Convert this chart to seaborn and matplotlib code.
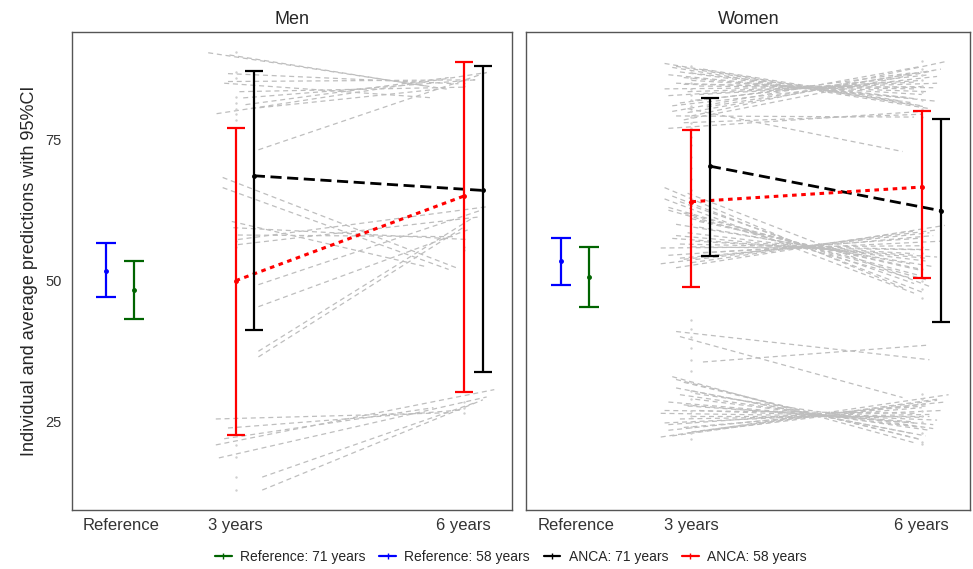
import numpy as np
import pandas as pd
import seaborn as sns
import matplotlib.pyplot as plt
from matplotlib.lines import Line2D

sns.set_style("white")
plt.rcParams['font.family'] = ['Liberation Sans', 'DejaVu Sans']

# x positions of the categories
tick_pos = [1.5, 3, 6]
tick_labels = ["Reference", "3 years", "6 years"]
panels = ["Men", "Women"]

# group means and 95% CI (lower, mean, upper)
ref58 = {"Men": (47.2, 51.8, 56.6), "Women": (49.3, 53.5, 57.6)}
ref71 = {"Men": (43.3, 48.4, 53.5), "Women": (45.4, 50.6, 55.9)}
anca58_3y = {"Men": (22.7, 50.0, 77.1), "Women": (48.9, 64.0, 76.7)}
anca58_6y = {"Men": (30.3, 65.0, 88.8), "Women": (50.4, 66.6, 80.0)}
anca71_3y = {"Men": (41.3, 68.6, 87.2), "Women": (54.4, 70.3, 82.4)}
anca71_6y = {"Men": (33.8, 66.0, 88.0), "Women": (42.6, 62.4, 78.7)}

# individual predictions: (x start, y start, x end, y end)
men_x0 = [2.64, 2.9, 2.9, 3.1, 3.13, 2.75, 3.3, 2.92, 3.05, 3.2, 2.85,
          2.83, 2.83, 2.97, 3.03, 3.03, 3.03, 3.3, 3.3, 3.3, 3.3, 2.95,
          2.74, 2.9, 2.74, 2.78, 3.35, 3.35, 2.85]
men_y0 = [90.4, 86.7, 85.3, 82.4, 81.2, 79.6, 73.2, 90.0, 83.5, 80.5, 85.0,
          68.3, 66.5, 59.4, 58.1, 57.3, 56.4, 49.3, 45.4, 37.5, 36.5, 60.5,
          25.5, 23.9, 20.9, 18.6, 15.2, 12.9, 22.0]
men_x1 = [5.8, 5.93, 6.15, 6.15, 5.8, 6.3, 6.3, 5.5, 6.0, 5.7, 5.6,
          5.9, 5.8, 6.05, 5.9, 6.3, 6.2, 6.25, 6.05, 6.1, 6.0, 5.5,
          5.8, 5.98, 6.4, 6.3, 6.15, 6.25, 5.6]
men_y1 = [83.9, 84.9, 85.6, 85.6, 86.0, 86.9, 86.9, 84.5, 84.3, 84.0, 82.4,
          52.3, 52.0, 57.3, 57.8, 63.1, 61.3, 62.6, 59.0, 61.0, 59.5, 52.5,
          26.6, 27.1, 30.7, 29.4, 28.4, 28.9, 27.5]

women_x0 = [2.65, 2.75, 2.85, 2.7, 2.9, 3.0, 2.8, 3.1, 2.95, 2.7, 3.05, 2.85,
            3.2, 2.75, 3.0, 2.65, 3.15, 2.9, 2.8, 2.9, 2.95, 2.7,
            2.8, 3.0, 2.9, 3.1, 2.75, 2.95,
            2.65, 2.75, 2.85, 2.7, 2.9, 3.0, 2.8, 3.1, 2.95, 2.75, 3.05, 2.85,
            2.6, 3.15, 2.7, 2.9, 2.6, 2.8, 3.0, 2.65,
            2.95, 2.7, 3.1, 2.85, 3.0, 2.8,
            2.8, 3.15, 2.85,
            2.75, 2.9, 2.8, 3.0, 2.85, 3.05, 2.7, 2.95, 3.1, 2.6, 2.85, 2.65,
            2.9, 2.7, 2.95, 2.75, 2.6, 3.0, 2.65,
            2.8, 3.05, 2.9, 2.7, 3.0]
women_y0 = [88.5, 87.8, 87.0, 86.5, 86.0, 85.5, 85.0, 84.5, 83.5, 82.8, 82.0, 81.5,
            80.8, 80.0, 79.2, 84.0, 87.5, 78.5, 79.2, 78.0, 80.5, 77.0,
            88.0, 86.8, 84.8, 83.0, 81.0, 79.8,
            66.5, 65.0, 64.0, 63.0, 62.0, 61.0, 60.0, 59.5, 58.5, 57.5, 57.0, 56.5,
            55.8, 55.0, 54.5, 53.8, 53.0, 52.3, 56.0, 64.5,
            65.5, 62.5, 60.5, 54.0, 53.2, 58.0,
            41.0, 35.6, 40.1,
            33.0, 32.0, 31.0, 30.5, 29.8, 29.0, 28.5, 27.8, 27.0, 26.5, 25.5, 24.8,
            24.0, 23.5, 23.0, 22.5, 22.3, 26.0, 27.0,
            32.5, 30.0, 28.0, 24.5, 23.2]
women_x1 = [6.0, 6.1, 5.9, 6.2, 5.8, 6.0, 6.1, 5.9, 6.2, 6.0, 6.1, 5.85,
            6.25, 6.0, 6.3, 6.05, 5.75, 6.15, 5.9, 6.0, 5.75, 6.0,
            6.05, 5.95, 6.15, 5.9, 6.2, 6.0,
            5.8, 6.0, 5.9, 6.1, 5.95, 6.0, 6.15, 5.85, 6.05, 6.2, 5.9, 6.1,
            6.0, 6.25, 5.95, 6.1, 6.2, 6.3, 6.0, 5.9,
            6.1, 5.85, 6.0, 6.15, 5.9, 6.05,
            6.1, 6.1, 5.75,
            5.9, 5.95, 6.05, 5.85, 6.1, 6.0, 6.15, 5.9, 6.2, 6.0, 6.1, 6.25,
            6.0, 6.3, 6.05, 6.2, 6.35, 6.1, 5.95,
            6.0, 6.15, 5.9, 6.05, 6.2]
women_y1 = [81.0, 80.5, 81.5, 81.8, 82.5, 83.0, 83.5, 84.0, 85.0, 85.5, 86.5, 86.8,
            87.5, 88.0, 88.8, 84.4, 81.8, 87.2, 79.0, 79.5, 72.9, 80.0,
            80.8, 82.2, 84.2, 85.2, 86.2, 87.0,
            48.5, 48.0, 49.5, 50.0, 51.0, 51.8, 52.5, 53.0, 53.5, 54.2, 54.8, 55.5,
            56.2, 57.0, 57.5, 58.5, 59.0, 59.8, 55.5, 47.8,
            49.0, 50.5, 52.0, 58.0, 58.8, 54.0,
            36.0, 38.6, 29.3,
            21.3, 22.0, 22.5, 23.0, 23.5, 24.0, 24.5, 25.0, 25.3, 25.8, 26.3, 27.0,
            27.5, 28.5, 28.2, 29.0, 29.8, 26.0, 26.5,
            21.8, 23.8, 24.8, 27.8, 28.8]

# observed points at 3 and 6 years
men_dots3 = [90.5, 87.0, 86.0, 82.5, 81.5, 80.5, 79.5, 78.5, 57.0, 56.0, 20.9, 18.8, 15.2, 12.9]
men_dots6 = [85.0, 84.5, 56.0, 55.5, 28.5, 27.5, 26.6]
women_dots3 = [88.0, 87.0, 86.0, 85.0, 84.0, 83.0, 82.0, 81.0, 80.0, 79.0, 78.0, 77.0,
               75.5, 74.0, 72.0, 70.0, 68.0, 66.0, 64.0, 62.0, 60.0,
               43.0, 41.5, 40.0, 38.0, 36.0, 34.0, 32.0, 30.5, 29.0, 28.0, 27.0,
               26.0, 25.0, 24.0, 23.0, 22.0]
women_dots6 = [89.0, 87.5, 86.5, 85.5, 84.5, 83.5, 82.0, 80.5, 79.0, 58.0, 57.0, 56.0,
               55.0, 54.0, 52.0, 50.0, 48.5, 47.0,
               30.0, 29.0, 28.0, 27.0, 26.0, 25.0, 24.0, 23.0, 21.5, 21.0]

indiv = {"Men": (men_x0, men_y0, men_x1, men_y1, men_dots3, men_dots6),
         "Women": (women_x0, women_y0, women_x1, women_y1, women_dots3, women_dots6)}

GREY = "#BEBEBE"
BLUE = "#0000FF"
GREEN = "#006400"
RED = "#FF0000"

fig = plt.figure(figsize=(9.73, 5.69), dpi=100)
axes = [fig.add_axes([0.074, 0.104, 0.452, 0.840]),
        fig.add_axes([0.541, 0.104, 0.456, 0.840])]


def errbar(ax, x, ci, color, cap):
    lo, mid, hi = ci
    ax.errorbar([x], [mid], yerr=[[mid - lo], [hi - mid]], color=color,
                lw=1.6, capsize=cap, capthick=1.6, marker="o", ms=2.5, zorder=4)


for ax, name in zip(axes, panels):
    x0, y0, x1, y1, d3, d6 = indiv[name]
    n = len(x0)
    seg = pd.DataFrame({"x": list(x0) + list(x1),
                        "y": list(y0) + list(y1),
                        "id": list(range(n)) * 2})
    sns.lineplot(data=seg, x="x", y="y", units="id", estimator=None, sort=False,
                 color=GREY, lw=0.9, linestyle=(0, (4, 3)), ax=ax, zorder=1)
    ax.scatter([3] * len(d3), d3, s=3, color="#CFCFCF", linewidths=0, zorder=1)
    ax.scatter([6] * len(d6), d6, s=3, color="#CFCFCF", linewidths=0, zorder=1)

    # mean trajectories
    means = pd.DataFrame({"x": [3.24, 6.25, 3.0, 6.0],
                          "y": [anca71_3y[name][1], anca71_6y[name][1],
                                anca58_3y[name][1], anca58_6y[name][1]],
                          "grp": ["71", "71", "58", "58"]})
    sns.lineplot(data=means[means.grp == "71"], x="x", y="y", color="black",
                 lw=2, linestyle=(0, (4, 2)), ax=ax, zorder=3)
    sns.lineplot(data=means[means.grp == "58"], x="x", y="y", color=RED,
                 lw=2.2, linestyle=(0, (1.5, 1.5)), ax=ax, zorder=3)

    errbar(ax, 1.3, ref58[name], BLUE, 7.5)
    errbar(ax, 1.67, ref71[name], GREEN, 7.5)
    errbar(ax, 3.0, anca58_3y[name], RED, 6.5)
    errbar(ax, 3.24, anca71_3y[name], "black", 6.5)
    errbar(ax, 6.0, anca58_6y[name], RED, 6.5)
    errbar(ax, 6.25, anca71_6y[name], "black", 6.5)

    ax.set_xlim(0.85, 6.63)
    ax.set_ylim(9.4, 94.1)
    ax.set_xticks(tick_pos)
    ax.set_xticklabels(tick_labels, fontsize=12, color="#333333")
    ax.set_yticks([25, 50, 75])
    ax.tick_params(axis="x", length=4, color="#333333", pad=2)
    ax.tick_params(axis="y", length=4, color="#333333", labelsize=10.5,
                   labelcolor="#333333")
    ax.set_xlabel("")
    ax.set_ylabel("")
    ax.set_title(name, fontsize=13, pad=6)
    for s in ax.spines.values():
        s.set_visible(True)
        s.set_color("#555555")
        s.set_linewidth(1.0)

axes[1].set_yticklabels([])
axes[1].tick_params(axis="y", length=0)
axes[0].set_ylabel("Individual and average predictions with 95%CI", fontsize=13,
                   labelpad=5)

handles = [Line2D([], [], color=GREEN, lw=1.6, marker="|", ms=5),
           Line2D([], [], color=BLUE, lw=1.6, marker="|", ms=5),
           Line2D([], [], color="black", lw=1.6, marker="|", ms=5),
           Line2D([], [], color=RED, lw=1.6, marker="|", ms=5)]
labels = ["Reference: 71 years", "Reference: 58 years", "ANCA: 71 years", "ANCA: 58 years"]
fig.legend(handles, labels, loc="center", bbox_to_anchor=(0.525, 0.021), ncol=4,
           frameon=False, fontsize=10, handlelength=1.2, handletextpad=0.6,
           columnspacing=1.0)

fig.savefig("out.png", dpi=100)
